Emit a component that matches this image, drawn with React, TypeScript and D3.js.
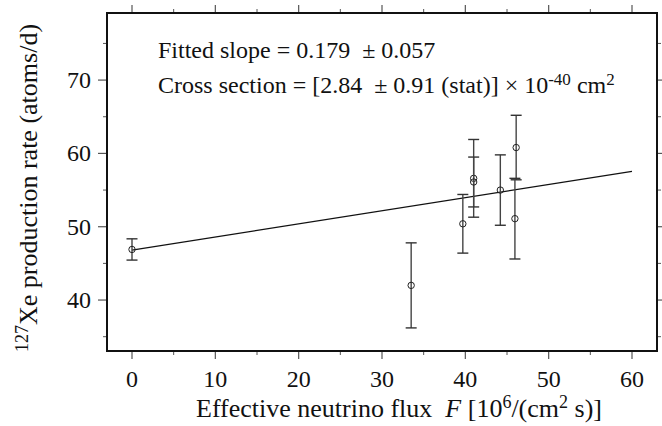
import React from 'react';
import * as d3 from 'd3';

const fluxValues = [0, 33.5, 39.7, 41.0, 41.0, 44.2, 46.1, 45.95];
const rateValues = [46.9, 42.0, 50.4, 56.6, 56.1, 55.0, 60.8, 51.1];
const rateErrors = [1.45, 5.8, 4.0, 5.3, 3.4, 4.8, 4.4, 5.5];
const xMajorTicks = [0, 10, 20, 30, 40, 50, 60];
const xMinorTicks = [5, 15, 25, 35, 45, 55];
const yMajorTicks = [40, 50, 60, 70];
const yMinorTicks = [35, 45, 55, 65, 75];
const fitSlope = 0.179;
const fitIntercept = 46.8;
const fitRange = [0, 60];
const xDomain = [-3, 63];
const yDomain = [33.05, 79.15];

const W = 662, H = 426;
const M = { left: 107, top: 13, right: 5, bottom: 75 };
const FONT = '"Liberation Serif", "DejaVu Serif", serif';

export default function App() {
  const x = d3.scaleLinear().domain(xDomain).range([M.left, W - M.right]);
  const y = d3.scaleLinear().domain(yDomain).range([H - M.bottom, M.top]);
  const x0 = M.left, x1 = W - M.right, y0 = H - M.bottom, y1 = M.top;
  const fitLine = d3.line<number>().x(d => x(d)).y(d => y(fitIntercept + fitSlope * d));
  const fs = 24;
  const sup = 17;
  const tfs = 26;
  const tsup = 18;
  const tickColor = '#555';
  return (
    <svg width={W} height={H} style={{ position: 'absolute', left: 0, top: 0, background: '#fff' }}
      fontFamily={FONT}>
      <rect x={0} y={0} width={W} height={H} fill="#fff" />
      {xMajorTicks.map(t => (
        <g key={'xm' + t}>
          <line x1={x(t)} x2={x(t)} y1={y0} y2={y0 + 8} stroke={tickColor} strokeWidth={1.2} />
          <line x1={x(t)} x2={x(t)} y1={y1} y2={y1 - 8} stroke={tickColor} strokeWidth={1.2} />
          <text x={x(t)} y={387} textAnchor="middle" fontSize={fs} fill="#111">{t}</text>
        </g>
      ))}
      {xMinorTicks.map(t => (
        <g key={'xn' + t}>
          <line x1={x(t)} x2={x(t)} y1={y0} y2={y0 + 4} stroke={tickColor} strokeWidth={1} />
          <line x1={x(t)} x2={x(t)} y1={y1} y2={y1 - 4} stroke={tickColor} strokeWidth={1} />
        </g>
      ))}
      {yMajorTicks.map(t => (
        <g key={'ym' + t}>
          <line x1={x0} x2={x0 - 9} y1={y(t)} y2={y(t)} stroke={tickColor} strokeWidth={1.2} />
          <line x1={x1} x2={x1 + 9} y1={y(t)} y2={y(t)} stroke={tickColor} strokeWidth={1.2} />
          <text x={91} y={y(t) + 8} textAnchor="end" fontSize={fs} fill="#111">{t}</text>
        </g>
      ))}
      {yMinorTicks.map(t => (
        <g key={'yn' + t}>
          <line x1={x0} x2={x0 - 4} y1={y(t)} y2={y(t)} stroke={tickColor} strokeWidth={1} />
          <line x1={x1} x2={x1 + 4} y1={y(t)} y2={y(t)} stroke={tickColor} strokeWidth={1} />
        </g>
      ))}
      <path d={fitLine(fitRange) || ''} stroke="#111" strokeWidth={1.2} fill="none" />
      {fluxValues.map((f, i) => {
        const cx = x(f);
        const top = y(rateValues[i] + rateErrors[i]);
        const bot = y(rateValues[i] - rateErrors[i]);
        return (
          <g key={'p' + i}>
            <line x1={cx} x2={cx} y1={top} y2={bot} stroke="#444" strokeWidth={1.4} />
            <line x1={cx - 5.5} x2={cx + 5.5} y1={top} y2={top} stroke="#333" strokeWidth={1.4} />
            <line x1={cx - 5.5} x2={cx + 5.5} y1={bot} y2={bot} stroke="#333" strokeWidth={1.4} />
            <circle cx={cx} cy={y(rateValues[i])} r={3.2} fill="none" stroke="#222" strokeWidth={1} />
          </g>
        );
      })}
      <rect x={x0} y={y1} width={x1 - x0} height={y0 - y1} fill="none" stroke="#111" strokeWidth={2} />
      <text x={158} y={58} fontSize={fs} fill="#111" style={{ whiteSpace: 'pre' }}>
        {'Fitted slope = 0.179  \u00B1 0.057'}
      </text>
      <text x={158} y={93} fontSize={fs} fill="#111" style={{ whiteSpace: 'pre' }}>
        {'Cross section = [2.84  \u00B1 0.91 (stat)] \u00D7 10'}
        <tspan dy={-8} fontSize={sup}>-40</tspan>
        <tspan dy={8}> cm</tspan>
        <tspan dy={-8} fontSize={sup}>2</tspan>
      </text>
      <text x={196} y={417} textAnchor="start" fontSize={tfs} fill="#111" style={{ whiteSpace: 'pre' }}>
        {'Effective neutrino flux  '}<tspan fontStyle="italic">F</tspan>{' [10'}
        <tspan dy={-9} fontSize={tsup}>6</tspan>
        <tspan dy={9}>/(cm</tspan>
        <tspan dy={-9} fontSize={tsup}>2</tspan>
        <tspan dy={9}> s)]</tspan>
      </text>
      <text transform={`translate(37, 188) rotate(-90)`} textAnchor="middle" fontSize={tfs} fill="#111">
        <tspan dy={-9} fontSize={tsup}>127</tspan>
        <tspan dy={9}>Xe production rate (atoms/d)</tspan>
      </text>
    </svg>
  );
}
